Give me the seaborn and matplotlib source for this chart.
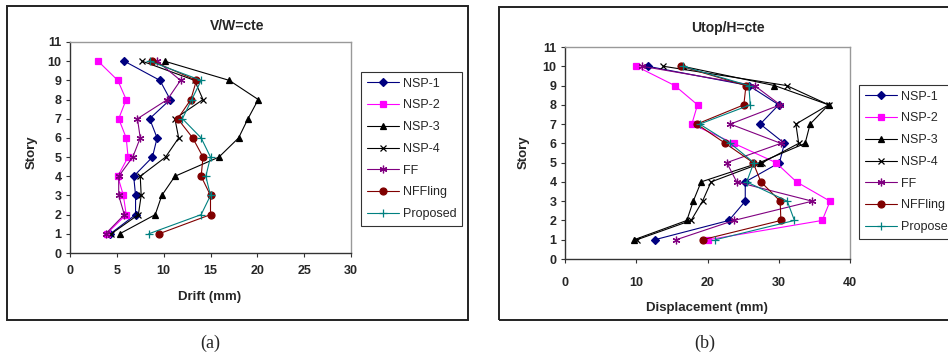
import matplotlib
matplotlib.use("Agg")
import matplotlib.pyplot as plt
import seaborn as sns
from matplotlib.patches import Rectangle

sns.set_style("white")
plt.rcParams['font.family'] = ['Liberation Sans', 'DejaVu Sans']

# data
stories = [10, 9, 8, 7, 6, 5, 4, 3, 2, 1]
series = ["NSP-1", "NSP-2", "NSP-3", "NSP-4", "FF", "NFFling", "Proposed"]

drift_nsp1 = [5.8, 9.6, 10.7, 8.5, 9.3, 8.8, 6.8, 7.0, 7.0, 4.3]
drift_nsp2 = [3.0, 5.1, 6.0, 5.2, 6.0, 6.2, 5.1, 5.7, 6.0, 3.9]
drift_nsp3 = [10.1, 17.0, 20.1, 19.0, 18.0, 15.9, 11.2, 9.8, 9.1, 5.3]
drift_nsp4 = [7.7, 13.3, 14.2, 11.2, 11.6, 10.2, 7.5, 7.6, 7.3, 4.4]
drift_ff = [9.3, 11.8, 10.4, 7.2, 7.5, 6.7, 5.2, 5.2, 5.8, 3.8]
drift_nffling = [8.8, 13.5, 12.9, 11.5, 13.1, 14.2, 14.0, 15.0, 15.0, 9.5]
drift_proposed = [8.5, 14.0, 13.0, 12.0, 14.0, 15.0, 14.5, 15.0, 14.0, 8.4]

disp_nsp1 = [11.6, 25.8, 30.0, 27.4, 30.8, 30.1, 25.3, 25.3, 23.0, 12.6]
disp_nsp2 = [10.0, 15.4, 18.6, 17.8, 23.7, 29.6, 32.5, 37.2, 36.1, 20.1]
disp_nsp3 = [16.5, 29.4, 37.0, 34.4, 33.7, 27.3, 19.1, 18.0, 17.1, 9.7]
disp_nsp4 = [13.8, 31.1, 37.0, 32.4, 32.8, 27.7, 20.5, 19.3, 17.7, 10.1]
disp_ff = [10.8, 26.6, 30.2, 23.2, 30.3, 22.7, 24.1, 34.7, 23.7, 15.6]
disp_nffling = [16.3, 25.4, 25.1, 18.5, 22.5, 26.4, 27.5, 30.2, 30.3, 19.3]
disp_proposed = [16.5, 25.8, 26.0, 18.9, 23.2, 26.5, 25.5, 31.2, 32.2, 21.1]

drift = [drift_nsp1, drift_nsp2, drift_nsp3, drift_nsp4, drift_ff, drift_nffling, drift_proposed]
disp = [disp_nsp1, disp_nsp2, disp_nsp3, disp_nsp4, disp_ff, disp_nffling, disp_proposed]

colors = ["#000080", "#FF00FF", "#000000", "#000000", "#800080", "#800000", "#008080"]
markers = ["D", "s", "^", "x", (6, 2, 0), "o", "+"]
msizes = [4, 4.5, 5, 4.5, 5.5, 5, 5.5]

W, H = 948, 357
fig = plt.figure(figsize=(W / 100, H / 100), dpi=100)


def px(x0, y0, x1, y1):
    # pixel box -> figure fraction [left, bottom, width, height]
    return [x0 / W, 1 - y1 / H, (x1 - x0) / W, (y1 - y0) / H]


# chart frames
for box in [(7, 6, 468, 320), (499, 7, 1000, 320)]:
    l, b, w, h = px(*box)
    fig.patches.append(Rectangle((l, b), w, h, transform=fig.transFigure,
                                 fill=False, edgecolor="#222222", linewidth=1.4))


def draw(ax, xdata, xmax, xstep, xpad, title, tpos, xlabel, xlpos, ylpos, legbox):
    for name, vals, c, m, ms in zip(series, xdata, colors, markers, msizes):
        sns.lineplot(x=vals, y=stories, sort=False, estimator=None, ax=ax,
                     color=c, marker=m, markersize=ms, linewidth=0.8,
                     markeredgecolor=c, markeredgewidth=0.9, label=name)
    ax.set_xlim(0, xmax)
    ax.set_ylim(0, 11)
    ax.set_xticks(range(0, xmax + 1, xstep))
    ax.set_yticks(range(0, 12))
    ax.set_xlabel("")
    ax.set_ylabel("")
    for s in ["left", "bottom"]:
        ax.spines[s].set_color("#333333")
        ax.spines[s].set_linewidth(1.0)
    for s in ["top", "right"]:
        ax.spines[s].set_color("#999999")
        ax.spines[s].set_linewidth(1.0)
    ax.tick_params(direction="out", length=3, width=0.8, color="#333333",
                   labelsize=9, pad=3, left=True, bottom=True)
    for t in ax.get_xticklabels() + ax.get_yticklabels():
        t.set_fontweight("bold")
    ax.tick_params(axis="x", pad=xpad)
    fig.text(tpos[0] / W, 1 - tpos[1] / H, title, ha="center", va="center",
             fontsize=10, fontweight="bold")
    fig.text(xlpos[0] / W, 1 - xlpos[1] / H, xlabel, ha="center", va="center",
             fontsize=9.5, fontweight="bold")
    fig.text(ylpos[0] / W, 1 - ylpos[1] / H, "Story", ha="center", va="center",
             fontsize=9.5, fontweight="bold", rotation=90)
    leg = ax.legend(loc="upper left", bbox_to_anchor=(legbox[0] / W, 1 - legbox[1] / H),
                    bbox_transform=fig.transFigure, fontsize=9, frameon=True,
                    fancybox=False, edgecolor="black", handlelength=2.6,
                    handletextpad=0.3, labelspacing=0.78, borderpad=0.45,
                    borderaxespad=0)
    leg.get_frame().set_linewidth(0.8)


ax1 = fig.add_axes(px(70, 42, 351, 253))
draw(ax1, drift, 30, 5, 6, "V/W=cte", (237, 26), "Drift (mm)", (210, 297), (32, 152),
     (361, 72))

ax2 = fig.add_axes(px(565, 47, 850, 259))
draw(ax2, disp, 40, 10, 10, "Utop/H=cte", (728, 28), "Displacement (mm)", (707, 308),
     (524, 152), (859, 85))

fig.text(210 / W, 1 - 343 / H, "(a)", ha="center", va="center", fontsize=13,
         family="Liberation Serif")
fig.text(705 / W, 1 - 343 / H, "(b)", ha="center", va="center", fontsize=13,
         family="Liberation Serif")

fig.savefig("out.png", dpi=100, facecolor="white")
